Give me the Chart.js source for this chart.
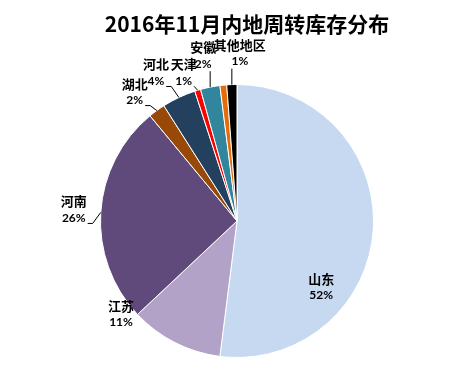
<!DOCTYPE html>
<html>
<head>
<meta charset="utf-8">
<script src="https://cdn.jsdelivr.net/npm/chart.js@4/dist/chart.umd.min.js"></script>
<style>
  body { margin: 0; background: #fff; }
  #wrap { width: 452px; height: 374px; }
</style>
</head>
<body>
<div id="wrap"><canvas id="pie" width="452" height="374"></canvas></div>
<script>
// ---------------- Data ----------------
const titleText = "2016年11月内地周转库存分布";
const regions = ["山东", "江苏", "河南", "湖北", "河北", "天津", "安徽", "", "其他地区"];
const shares = [52, 11, 26, 2, 4, 0.7, 2.3, 0.8, 1.2];
const sliceColors = ["#C6D9F1", "#B3A2C7", "#604A7B", "#984807", "#24405F", "#FF0000", "#31859C", "#E46C0A", "#000000"];

// label offsets from each slice's outer mid point (dx, dy of percent text centre), null = no label
const labelOffsets = [
    [-52, 66, false], [-54, -20, false], [-27, 6, true], [-22, -10, true], [-23, -16, true],
    [-14, -9, true], [-7, -23, true], null, [8, -23, true]
];

const nameFont = 'bold 13px "Noto Sans CJK SC", sans-serif';
const pctFont = 'bold 12px Lato, "Noto Sans CJK SC", sans-serif';

// ---------------- Labels plugin ----------------
const labelPlugin = {
    id: "sliceLabels",
    afterDraw(chart) {
        const ctx = chart.ctx;
        const meta = chart.getDatasetMeta(0);
        const total = shares.reduce((a, b) => a + b, 0);

        ctx.save();
        ctx.fillStyle = "#000";
        ctx.textAlign = "center";
        ctx.textBaseline = "middle";
        ctx.font = 'bold 21px "Noto Sans CJK SC", sans-serif';
        ctx.fillText(titleText, 247, 24);

        meta.data.forEach((arc, i) => {
            const off = labelOffsets[i];
            if (!off || !regions[i]) return;
            const p = arc.getProps(["x", "y", "startAngle", "endAngle", "outerRadius"], true);
            const mid = (p.startAngle + p.endAngle) / 2;
            const ex = p.x + Math.cos(mid) * p.outerRadius;
            const ey = p.y + Math.sin(mid) * p.outerRadius;
            const lx = ex + off[0];
            const ly = ey + off[1];
            const pct = Math.round(shares[i] / total * 100) + "%";

            ctx.font = nameFont;
            ctx.fillText(regions[i], lx, ly - 17);
            ctx.font = pctFont;
            ctx.fillText(pct, lx, ly);

            if (off[2]) {
                const w = ctx.measureText(pct).width;
                ctx.strokeStyle = "#000";
                ctx.lineWidth = 1;
                ctx.beginPath();
                if (Math.abs(off[1]) > 1.5 * Math.abs(off[0])) {
                    const sx = Math.max(lx - w / 2, Math.min(lx + w / 2, ex));
                    ctx.moveTo(sx, ly + 7);
                    ctx.lineTo(ex, ey);
                } else {
                    const sx = lx + w / 2 + 2;
                    const sy = ly + 5;
                    ctx.moveTo(sx, sy);
                    if (ex - sx > 8) ctx.lineTo(sx + 5, sy);
                    ctx.lineTo(ex, ey);
                }
                ctx.stroke();
            }
        });
        ctx.restore();
    }
};

// ---------------- Chart ----------------
new Chart(document.getElementById("pie").getContext("2d"), {
    type: "pie",
    data: {
        labels: regions,
        datasets: [{
            data: shares,
            backgroundColor: sliceColors,
            borderColor: "#ffffff",
            borderWidth: 1
        }]
    },
    options: {
        responsive: false,
        animation: false,
        layout: { padding: { left: 100, right: 78, top: 84, bottom: 16 } },
        plugins: {
            legend: { display: false },
            title: { display: false },
            tooltip: { enabled: false }
        }
    },
    plugins: [labelPlugin]
});
</script>
</body>
</html>
